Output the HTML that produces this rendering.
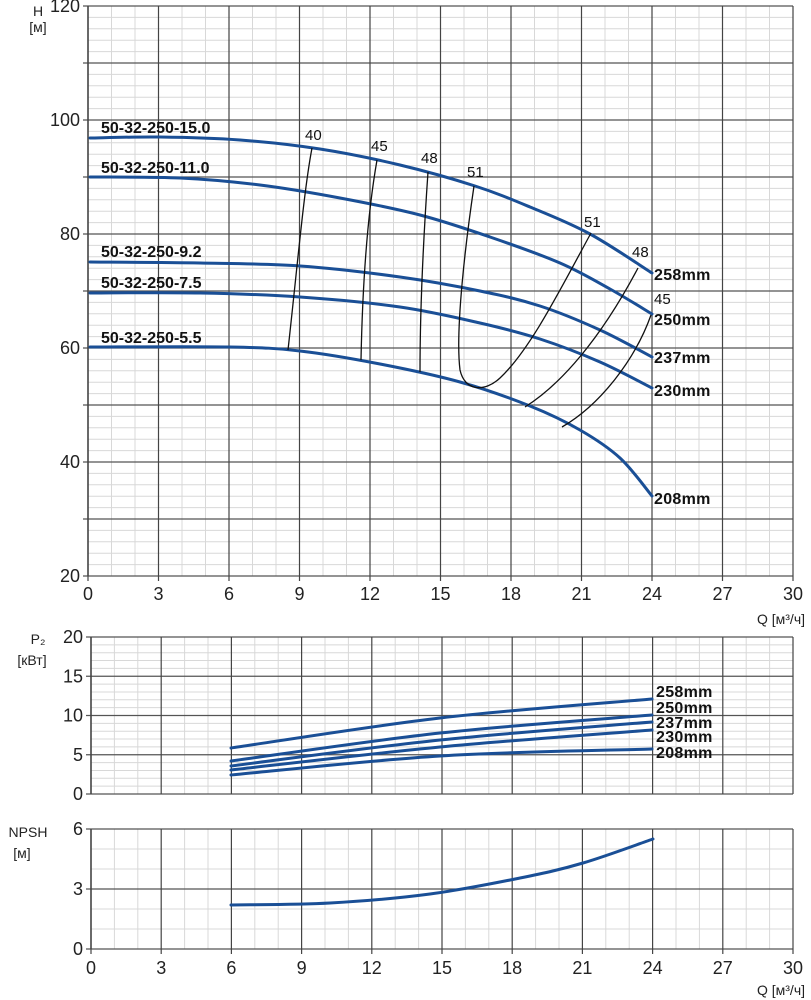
<!DOCTYPE html>
<html><head><meta charset="utf-8"><style>
html,body{margin:0;padding:0;background:#fff;}
svg{display:block;font-family:"Liberation Sans",sans-serif;}
</style></head><body>
<svg id="s" width="811" height="1000" viewBox="0 0 811 1000" xmlns="http://www.w3.org/2000/svg">
<g id="grid"></g>
<g id="curves" fill="none" stroke="#1a4f96" stroke-width="3" stroke-linecap="round" stroke-linejoin="round"></g>
<g fill="none" stroke="#111" stroke-width="1.3">
<path d="M312,148 C304,190 298,260 288,350"/>
<path d="M377,160 C370,200 363,260 361,360"/>
<path d="M428,172 C424,230 420,300 420,372"/>
<path d="M474,186 C466,240 455,330 460,370 C465,392 485,392 500,378 C530,350 560,290 591,233"/>
<path d="M525,407 C560,385 600,340 638,268"/>
<path d="M562,427 C600,405 635,360 651,315"/>
</g>
<g font-size="15" fill="#111">
<text x="305" y="140">40</text><text x="371" y="151">45</text><text x="421" y="163">48</text><text x="467" y="177">51</text>
<text x="584" y="227">51</text><text x="632" y="257">48</text><text x="654" y="304">45</text>
</g>
<g font-size="16" font-weight="bold" fill="#111">
<text x="101" y="133">50-32-250-15.0</text>
<text x="101" y="173">50-32-250-11.0</text>
<text x="101" y="257">50-32-250-9.2</text>
<text x="101" y="288">50-32-250-7.5</text>
<text x="101" y="343">50-32-250-5.5</text>
</g>
<g font-size="16" font-weight="bold" fill="#111" letter-spacing="0.3">
<text x="654" y="280">258mm</text><text x="654" y="325">250mm</text><text x="654" y="363">237mm</text><text x="654" y="396">230mm</text><text x="654" y="504">208mm</text>
<text x="656" y="697">258mm</text><text x="656" y="713">250mm</text><text x="656" y="728">237mm</text><text x="656" y="742">230mm</text><text x="656" y="758">208mm</text>
</g>
<g font-size="14" fill="#222">
<text x="38" y="16" text-anchor="middle">H</text><text x="38" y="32" text-anchor="middle">[м]</text>
<text x="38" y="644" text-anchor="middle">P₂</text><text x="32" y="665" text-anchor="middle">[кВт]</text>
<text x="28" y="837" text-anchor="middle">NPSH</text><text x="22" y="858" text-anchor="middle">[м]</text>
<text x="805" y="624" text-anchor="end">Q [м³/ч]</text>
<text x="805" y="995" text-anchor="end">Q [м³/ч]</text>
</g>
</svg>
<script>
const g=document.getElementById('grid');let h='';
function L(x1,y1,x2,y2,c,w){h+=`<line x1="${x1}" y1="${y1}" x2="${x2}" y2="${y2}" stroke="${c}" stroke-width="${w}"/>`;}
function T(x,y,t,a){h+=`<text x="${x}" y="${y}" font-size="18" fill="#222" text-anchor="${a}">${t}</text>`;}
function chart(x0,x1,yTop,yBot,nMinorY,majEvery,yLabels,xlab,xlabY){
 const sx=(x1-x0)/30;
 for(let i=0;i<=30;i++){const x=x0+i*sx; if(i%3) L(x,yTop,x,yBot,'#d8d8d8',1);}
 const sy=(yBot-yTop)/nMinorY;
 for(let j=0;j<=nMinorY;j++){const y=yTop+j*sy; if(j%majEvery) L(x0,y,x1,y,'#d8d8d8',1);}
 for(let j=0;j<=nMinorY;j+=majEvery){const y=yTop+j*sy; L(x0-5,y,x1,y,'#555',1.2);}
 for(let i=0;i<=30;i+=3){const x=x0+i*sx; L(x,yTop,x,yBot+(xlab?5:0),'#444',1.2); if(xlab) T(x,xlabY,i,'middle');}
 L(x0,yTop,x0,yBot,'#444',1.5);
 yLabels.forEach(([v,j])=>T(x0-8,yTop+j*sy+6,v,'end'));
}
chart(88,793,6,576,50,5,[[120,0],[100,10],[80,20],[60,30],[40,40],[20,50]],true,600);
chart(91,793,637,794,20,5,[[20,0],[15,5],[10,10],[5,15],[0,20]],false,0);
chart(91,793,829,949,6,3,[[6,0],[3,3],[0,6]],true,974);
g.innerHTML=h;
function cr(p){let d=`M${p[0][0]},${p[0][1]}`;for(let i=0;i<p.length-1;i++){const a=p[i-1]||p[i],b=p[i],c=p[i+1],e=p[i+2]||c;
d+=` C${b[0]+(c[0]-a[0])/6},${b[1]+(c[1]-a[1])/6} ${c[0]-(e[0]-b[0])/6},${c[1]-(e[1]-b[1])/6} ${c[0]},${c[1]}`;}return `<path d="${d}"/>`;}
const C=[
[[90,138],[160,137],[240,140],[320,149],[400,165],[475,186],[530,207],[590,234],[652,273]],
[[90,177],[180,178],[260,185],[340,198],[420,215],[490,237],[560,263],[610,289],[652,314]],
[[90,262],[200,263],[300,266],[400,277],[480,291],[540,306],[600,330],[652,357]],
[[90,293],[200,293],[300,297],[400,307],[480,323],[540,339],[600,362],[652,388]],
[[90,347],[230,347],[300,351],[380,364],[460,382],[530,406],[580,430],[620,458],[652,496]],
[[231,748],[440,718],[652,699]],
[[231,761],[440,733],[652,715]],
[[231,766],[440,740],[652,722]],
[[231,770],[440,747],[652,730]],
[[231,775],[440,756],[652,749]],
[[231,905],[330,903],[430,894],[520,878],[583,863],[653,839]]];
document.getElementById('curves').innerHTML=C.map(cr).join('');
</script>
</body></html>
